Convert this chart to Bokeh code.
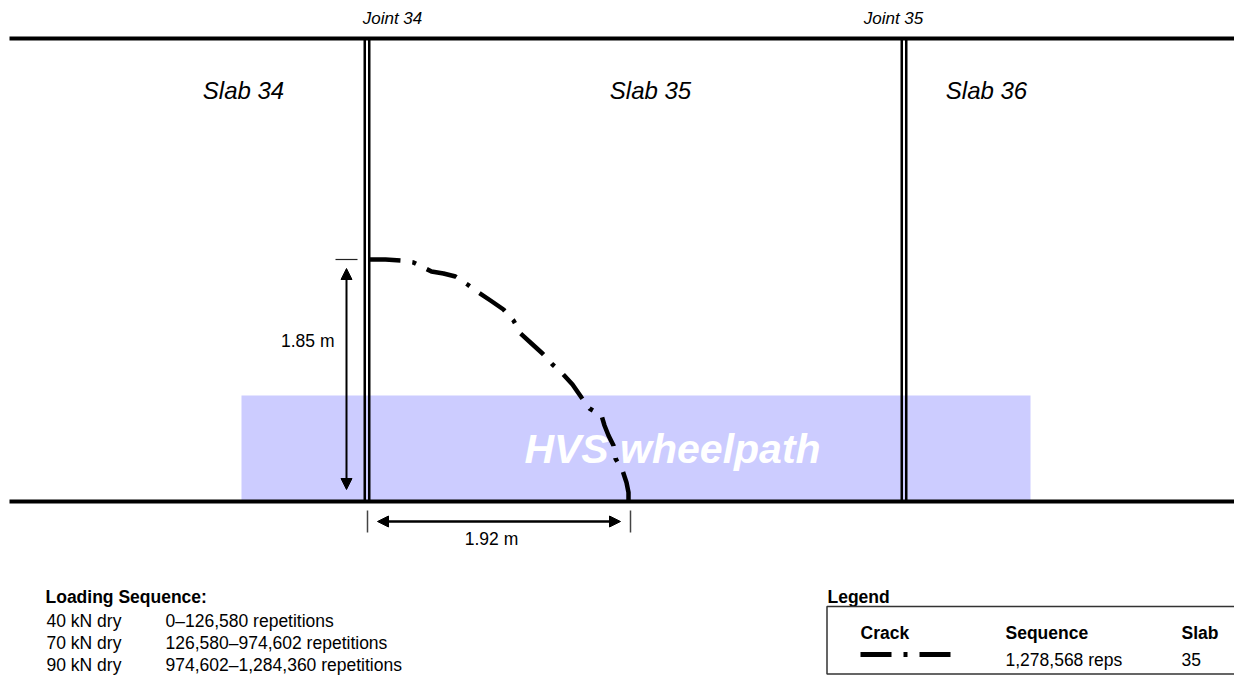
from bokeh.plotting import figure
from bokeh.models import Range1d, Arrow, NormalHead
from bokeh.core.properties import value
from bokeh.embed import file_html
from bokeh.resources import INLINE

# ---------------- data ----------------
SLAB_LABELS = ["Slab 34", "Slab 35", "Slab 36"]
JOINT_LABELS = ["Joint 34", "Joint 35"]
WHEELPATH_LABEL = "HVS wheelpath"
CRACK_LENGTH_M = 1.85      # vertical extent of the crack
CRACK_OFFSET_M = 1.92      # distance from joint 34 to crack end
LOAD_STEPS = ["40 kN dry", "70 kN dry", "90 kN dry"]
LOAD_RANGES = ["0\u2013126,580 repetitions",
               "126,580\u2013974,602 repetitions",
               "974,602\u20131,284,360 repetitions"]
LEGEND_HEADERS = ["Crack", "Sequence", "Slab"]
CRACK_REPS = "1,278,568 reps"
CRACK_SLAB = "35"

# crack trace (diagram coordinates)
CRACK_X = [369, 385, 400, 413, 425, 431, 443, 455, 467, 478, 490, 503, 513,
           520, 531, 542, 552, 562, 572, 581, 589, 601, 604, 608, 613, 615,
           622, 626, 628, 628]
CRACK_Y = [259, 259, 260, 262, 268, 271, 273, 276, 284, 292, 300, 309, 320,
           333, 343, 353, 364, 373, 384, 397, 408, 415, 425, 435, 445, 458,
           470, 482, 492, 500]

# ---------------- layout (diagram geometry) ----------------
W, H = 1234, 675
TOP_Y, BOT_Y = 38, 501
LINE_X0, LINE_X1 = 9, 1260
JOINT_X = [366.5, 903.5]
JOINT_LABEL_X = [392, 893]
SLAB_LABEL_X = [243, 650, 986]
WP_LEFT, WP_RIGHT, WP_TOP, WP_BOTTOM = 241, 1030, 395, 500
# text y values are visual centres
JOINT_LABEL_Y, SLAB_LABEL_Y, WP_LABEL_Y = 18, 90, 448
DIM_V_LABEL_Y, DIM_H_LABEL_Y = 340.5, 538.5
# bottom block (compressed a little to fit the page)
HEAD_Y = 596
ROW_Y = [620, 642, 664]
BOX_TOP, BOX_BOTTOM = 606, 673.5
LEG_HEAD_Y, LEG_ROW_Y, LEG_LINE_Y = 632, 659, 654

FONT = value("Liberation Sans")
BLACK = "#000000"

p = figure(width=W, height=H, x_range=Range1d(0, W), y_range=Range1d(H, 0),
           output_backend="svg", toolbar_location=None, min_border=0,
           x_axis_location=None, y_axis_location=None)
p.grid.visible = False
p.outline_line_color = None
p.background_fill_color = "white"
p.border_fill_color = "white"

# wheelpath band
p.quad(left=[WP_LEFT], right=[WP_RIGHT], top=[WP_TOP], bottom=[WP_BOTTOM],
       fill_color="#ccccff", line_color=None)

# slab edges
p.segment(x0=[LINE_X0, LINE_X0], x1=[LINE_X1, LINE_X1], y0=[TOP_Y, BOT_Y], y1=[TOP_Y, BOT_Y],
          line_color=BLACK, line_width=4, line_cap="butt")

# joints (double lines)
jx = []
for x in JOINT_X:
    jx += [x - 2.25, x + 2.25]
p.segment(x0=jx, x1=jx, y0=[TOP_Y] * len(jx), y1=[BOT_Y] * len(jx),
          line_color=BLACK, line_width=2.5, line_cap="butt")

# wheelpath label
p.text(x=[672], y=[WP_LABEL_Y], text=[WHEELPATH_LABEL], text_font=FONT,
       text_font_size="41px", text_font_style="bold italic", text_color="white",
       text_align="center", text_baseline="alphabetic")

# crack
CRACK_DASH = "31 12 4 12"
p.line(x=CRACK_X, y=CRACK_Y, line_color=BLACK, line_width=4.5, line_dash=CRACK_DASH,
       line_cap="butt", line_join="round")

# slab and joint labels
p.text(x=SLAB_LABEL_X, y=[SLAB_LABEL_Y] * 3, text=SLAB_LABELS, text_font=FONT,
       text_font_size="24px", text_font_style="italic", text_color=BLACK,
       text_align="center", text_baseline="alphabetic")
p.text(x=JOINT_LABEL_X, y=[JOINT_LABEL_Y] * 2, text=JOINT_LABELS, text_font=FONT,
       text_font_size="17px", text_font_style="italic", text_color=BLACK,
       text_align="center", text_baseline="alphabetic")

# dimension: vertical extent
crack_top = CRACK_Y[0]
crack_bottom = CRACK_Y[-1]
crack_left = CRACK_X[0]
crack_right = CRACK_X[-1]
p.segment(x0=[335], x1=[357], y0=[crack_top], y1=[crack_top], line_color="#222222", line_width=1.2)
p.add_layout(Arrow(x_start=346, y_start=crack_bottom - 11, x_end=346, y_end=crack_top + 9,
                   start=NormalHead(size=11, fill_color=BLACK, line_color=BLACK, line_width=1),
                   end=NormalHead(size=11, fill_color=BLACK, line_color=BLACK, line_width=1),
                   line_width=2, line_color=BLACK))
p.text(x=[334], y=[DIM_V_LABEL_Y], text=[f"{CRACK_LENGTH_M:.2f} m"], text_font=FONT,
       text_font_size="17.5px", text_color=BLACK, text_align="right", text_baseline="alphabetic")

# dimension: horizontal offset
p.segment(x0=[crack_left - 2, crack_right + 2], x1=[crack_left - 2, crack_right + 2],
          y0=[510, 510], y1=[532, 532], line_color="#444444", line_width=1.5)
p.add_layout(Arrow(x_start=crack_left + 8, y_start=521, x_end=crack_right - 8, y_end=521,
                   start=NormalHead(size=11, fill_color=BLACK, line_color=BLACK, line_width=1),
                   end=NormalHead(size=11, fill_color=BLACK, line_color=BLACK, line_width=1),
                   line_width=2.5, line_color=BLACK))
p.text(x=[491], y=[DIM_H_LABEL_Y], text=[f"{CRACK_OFFSET_M:.2f} m"], text_font=FONT,
       text_font_size="17.5px", text_color=BLACK, text_align="center", text_baseline="alphabetic")

# loading sequence block
p.text(x=[45], y=[HEAD_Y], text=["Loading Sequence:"], text_font=FONT,
       text_font_size="17.5px", text_font_style="bold", text_color=BLACK,
       text_baseline="alphabetic")
p.text(x=[46] * 3, y=ROW_Y, text=LOAD_STEPS, text_font=FONT, text_font_size="17.5px",
       text_color=BLACK, text_baseline="alphabetic")
p.text(x=[165] * 3, y=ROW_Y, text=LOAD_RANGES, text_font=FONT, text_font_size="17.5px",
       text_color=BLACK, text_baseline="alphabetic")

# legend block
p.text(x=[827], y=[HEAD_Y], text=["Legend"], text_font=FONT,
       text_font_size="17.5px", text_font_style="bold", text_color=BLACK,
       text_baseline="alphabetic")
p.quad(left=[826.5], right=[1300], top=[BOX_TOP], bottom=[BOX_BOTTOM],
       fill_color=None, line_color="#333333", line_width=1.5)
LEG_COL_X = [860, 1005, 1181]
p.text(x=LEG_COL_X, y=[LEG_HEAD_Y] * 3, text=LEGEND_HEADERS, text_font=FONT,
       text_font_size="17.5px", text_font_style="bold", text_color=BLACK,
       text_baseline="alphabetic")
p.line(x=[860, 951], y=[LEG_LINE_Y] * 2, line_color=BLACK, line_width=5,
       line_dash=CRACK_DASH, line_cap="butt")
p.text(x=LEG_COL_X[1:], y=[LEG_ROW_Y] * 2, text=[CRACK_REPS, CRACK_SLAB], text_font=FONT,
       text_font_size="17.5px", text_color=BLACK, text_baseline="alphabetic")

open("out.html", "w").write(file_html(p, INLINE))
